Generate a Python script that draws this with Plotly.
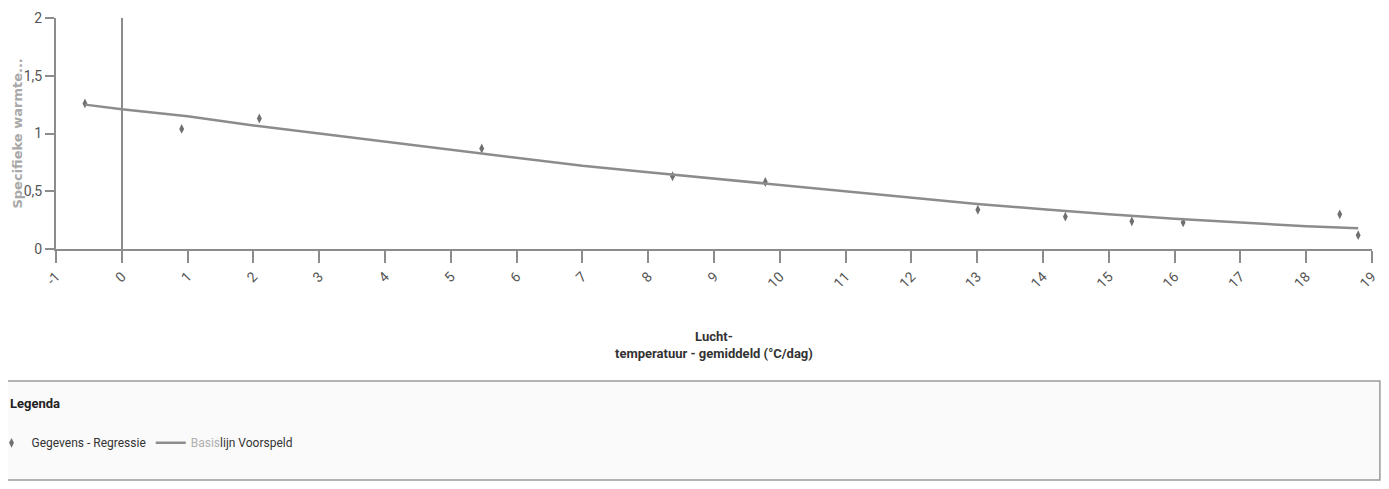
import plotly.graph_objects as go

# Data points (Gegevens - Regressie)
temp = [-0.56, 0.91, 2.09, 5.47, 8.37, 9.78, 13.01, 14.34, 15.35, 16.13, 18.51, 18.79]
heat = [1.26, 1.04, 1.13, 0.87, 0.63, 0.58, 0.34, 0.28, 0.24, 0.23, 0.30, 0.12]

# Baseline prediction (Basislijn Voorspeld)
base_x = [-0.56, 0, 1, 2, 3, 4, 5, 6, 7, 8, 9, 10, 11, 12, 13, 14, 15, 16, 17, 18, 18.79]
base_y = [1.25, 1.21, 1.15, 1.07, 1.00, 0.93, 0.86, 0.785, 0.72, 0.665, 0.61, 0.553,
          0.50, 0.44, 0.39, 0.345, 0.30, 0.262, 0.228, 0.197, 0.18]

x_ticks = list(range(-1, 20))
y_ticks = [0, 0.5, 1, 1.5, 2]
y_ticktext = ["0", "0,5", "1", "1,5", "2"]

GRAY = "#8c8c8c"
NARROW = "Liberation Sans Narrow, Roboto, sans-serif"

fig = go.Figure()
fig.add_trace(go.Scatter(
    x=temp, y=heat, mode="markers", name="Gegevens - Regressie",
    marker=dict(symbol="diamond-tall", size=7, color="#707070"),
))
fig.add_trace(go.Scatter(
    x=base_x, y=base_y, mode="lines",
    name="<span style='color:#b0b0b0'>Basis</span>lijn Voorspeld",
    line=dict(color=GRAY, width=2.5),
))

fig.update_xaxes(
    range=[-1, 19], tickvals=x_ticks, ticktext=[str(v) for v in x_ticks],
    tickangle=-45, showgrid=False, showline=True, linecolor=GRAY, linewidth=2,
    ticks="outside", ticklen=12, tickwidth=2, tickcolor=GRAY,
    zeroline=True, zerolinecolor=GRAY, zerolinewidth=2,
    tickfont=dict(family=NARROW, size=14, color="#555555"),
    automargin=False,
)
fig.update_yaxes(
    range=[0, 2], tickvals=y_ticks, ticktext=y_ticktext,
    showgrid=False, showline=True, linecolor=GRAY, linewidth=2,
    ticks="outside", ticklen=9, tickwidth=2, tickcolor=GRAY,
    zeroline=False,
    tickfont=dict(family=NARROW, size=14, color="#555555"),
    automargin=False,
)

fig.add_annotation(
    text="<b>Specifieke warmte...</b>", textangle=-90,
    xref="paper", yref="paper", x=-0.0296, y=0.5, xanchor="center", yanchor="middle",
    showarrow=False,
    font=dict(family="DejaVu Sans", size=13, color="#a8a8a8"),
)
fig.add_annotation(
    text="<b>Lucht-<br>temperatuur - gemiddeld (°C/dag)</b>",
    xref="paper", yref="paper", x=0.5, y=-0.415, xanchor="center", yanchor="middle",
    showarrow=False,
    font=dict(family=NARROW, size=13, color="#333333"),
)
fig.add_annotation(
    text="<b>Legenda</b>",
    xref="paper", yref="paper", x=-0.0362, y=-0.667, xanchor="left", yanchor="middle",
    showarrow=False,
    font=dict(family=NARROW, size=13, color="#222222"),
)

# legend frame
fig.add_shape(
    type="rect", xref="paper", yref="paper",
    x0=-0.06, x1=1.006, y0=-1.0, y1=-0.571,
    line=dict(color="#9a9a9a", width=1.5), fillcolor="rgba(245,245,245,0.5)", layer="below",
)

fig.update_layout(
    width=1381, height=481,
    margin=dict(l=48, r=17, t=10, b=240, autoexpand=False),
    plot_bgcolor="white", paper_bgcolor="white",
    showlegend=True,
    legend=dict(
        orientation="h", x=-0.049, y=-0.839, xanchor="left", yanchor="middle",
        font=dict(family=NARROW, size=12, color="#333333"),
        bgcolor="rgba(0,0,0,0)", itemwidth=30, tracegroupgap=0,
    ),
)

fig.write_html("out.html")
